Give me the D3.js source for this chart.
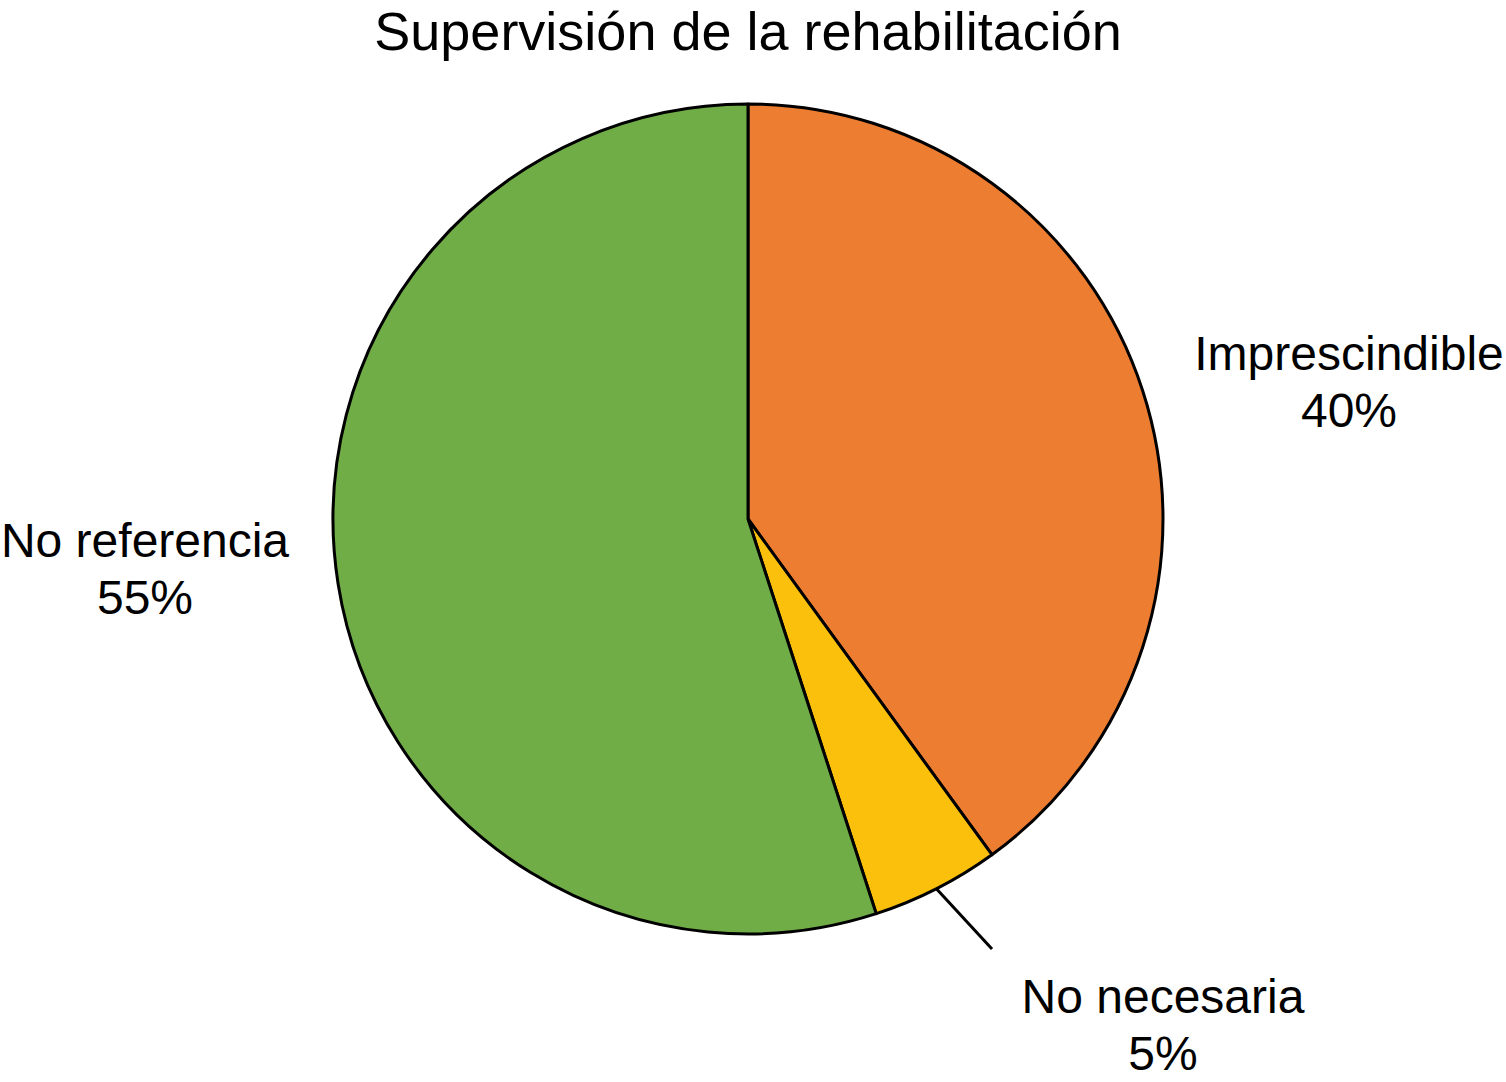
<!DOCTYPE html>
<html>
<head>
<meta charset="utf-8">
<script src="https://cdn.jsdelivr.net/npm/d3@7"></script>
<style>
  html, body { margin: 0; padding: 0; background: #fff; }
  svg { display: block; }
  text { font-family: "Liberation Sans", Arial, Helvetica, sans-serif; fill: #000; }
</style>
</head>
<body>
<svg id="chart" width="1506" height="1082"></svg>
<script>
const title = "Supervisión de la rehabilitación";
const categories = ["Imprescindible", "No necesaria", "No referencia"];
const values = [40, 5, 55];
const colors = ["#ED7D31", "#FBC00C", "#70AD47"];

// layout (not data)
const W = 1506, H = 1082;
const cx = 748, cy = 519, R = 415;
const labelPos = [
  { x: 1349, y: 370 },
  { x: 1163, y: 1013 },
  { x: 145, y: 557 }
];

const svg = d3.select("#chart");

svg.append("text")
  .attr("x", cx).attr("y", 50)
  .attr("text-anchor", "middle")
  .attr("font-size", 54)
  .text(title);

const data = categories.map((c, i) => ({ name: c, value: values[i], color: colors[i] }));
const pie = d3.pie().value(d => d.value).sort(null);
const arcs = pie(data);
const arc = d3.arc().innerRadius(0).outerRadius(R);

const g = svg.append("g").attr("transform", `translate(${cx},${cy})`);
g.selectAll("path.slice")
  .data(arcs)
  .join("path")
  .attr("class", "slice")
  .attr("d", arc)
  .attr("fill", d => d.data.color)
  .attr("stroke", "#000")
  .attr("stroke-width", 3)
  .attr("stroke-linejoin", "round");

// leader line for the small slice
const small = arcs[1];
const mid = (small.startAngle + small.endAngle) / 2;
const pLine = [ [Math.sin(mid) * R, -Math.cos(mid) * R], [992 - cx, 949 - cy] ];
g.append("line")
  .attr("x1", pLine[0][0]).attr("y1", pLine[0][1])
  .attr("x2", pLine[1][0]).attr("y2", pLine[1][1])
  .attr("stroke", "#000").attr("stroke-width", 3);

const fmt = d => d.value + "%";
arcs.forEach((a, i) => {
  const t = svg.append("text")
    .attr("x", labelPos[i].x).attr("y", labelPos[i].y)
    .attr("text-anchor", "middle")
    .attr("font-size", 48);
  t.append("tspan").attr("x", labelPos[i].x).text(a.data.name);
  t.append("tspan").attr("x", labelPos[i].x).attr("dy", 57).text(fmt(a.data));
});
</script>
</body>
</html>
